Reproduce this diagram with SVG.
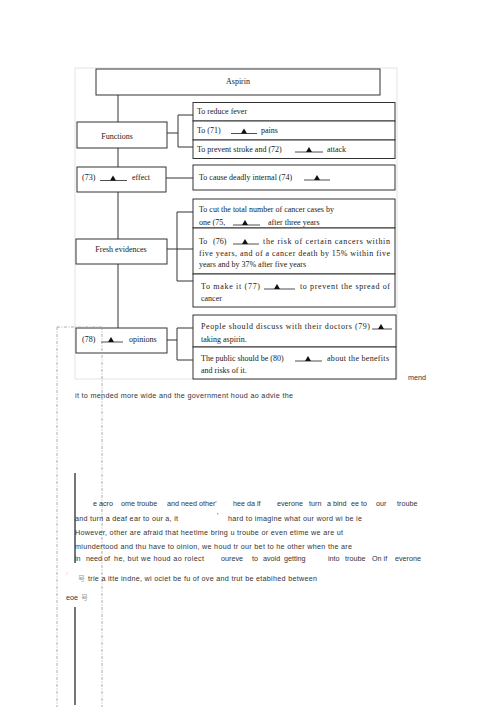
<svg xmlns="http://www.w3.org/2000/svg" width="500" height="707" viewBox="0 0 500 707">
<style>
.bx{fill:#fff;stroke:#333;stroke-width:1}
.cn{fill:none;stroke:#333;stroke-width:1}
.t{font-family:"Liberation Serif","Times New Roman",serif;font-size:8px;fill:#1a1a1a}
.ul{stroke:#222;stroke-width:0.8}
.b{font-family:"Liberation Sans",Arial,sans-serif;font-size:7.2px;fill:#333}
.cjk{font-family:"Liberation Sans","Noto Sans CJK SC",sans-serif;font-size:7px;fill:#999}
.dash{fill:none;stroke:#999;stroke-width:0.8;stroke-dasharray:3,1.5,1,1.5}
.bar{stroke:#666;stroke-width:1.8}
</style>
<defs>
<path id="tri" d="M-3,0 L3,0 L0,-5 Z" fill="#111"/>
</defs>
<rect x="75" y="68" width="322" height="311" fill="none" stroke="#ddd" stroke-width="0.8"/>
<g id="connectors">
<line class="cn" x1="118" y1="95" x2="118" y2="122"/>
<line class="cn" x1="118" y1="148" x2="118" y2="167"/>
<line class="cn" x1="118" y1="192" x2="118" y2="239"/>
<line class="cn" x1="118" y1="264" x2="118" y2="328"/>
<polyline class="cn" points="193,115 178,115 178,147 193,147"/>
<line class="cn" x1="167" y1="133" x2="178" y2="133"/>
<line class="cn" x1="166" y1="178" x2="193" y2="178"/>
<polyline class="cn" points="193,212 177,212 177,281 193,281"/>
<line class="cn" x1="167" y1="249" x2="193" y2="249"/>
<polyline class="cn" points="193,328 177,328 177,360 193,360"/>
<line class="cn" x1="167" y1="340" x2="177" y2="340"/>
</g>
<g id="aspirin">
<rect class="bx" x="96" y="69" width="284" height="26"/>
<text class="t" x="238" y="84" text-anchor="middle">Aspirin</text>
</g>
<g id="functions">
<rect class="bx" x="77" y="122" width="90" height="26"/>
<text class="t" x="117" y="138.5" text-anchor="middle">Functions</text>
</g>
<g id="f1">
<rect class="bx" x="193" y="102.5" width="202" height="18.5"/>
<text class="t" x="197" y="114">To reduce fever</text>
</g>
<g id="f2">
<rect class="bx" x="193" y="121" width="202" height="19"/>
<text class="t" x="197" y="133">To (71)</text>
<line class="ul" x1="231" y1="133.5" x2="257" y2="133.5"/>
<use href="#tri" x="244" y="133.5"/>
<text class="t" x="261" y="133">pains</text>
</g>
<g id="f3">
<rect class="bx" x="193" y="140" width="202" height="18.5"/>
<text class="t" x="197" y="151.5">To prevent stroke and (72)</text>
<line class="ul" x1="295" y1="152" x2="323" y2="152"/>
<use href="#tri" x="309" y="152"/>
<text class="t" x="327" y="151.5">attack</text>
</g>
<g id="effect">
<rect class="bx" x="77" y="167" width="89" height="25"/>
<text class="t" x="82" y="180">(73)</text>
<line class="ul" x1="100" y1="180.5" x2="127" y2="180.5"/>
<use href="#tri" x="113" y="180.5"/>
<text class="t" x="132" y="180">effect</text>
</g>
<g id="e1">
<rect class="bx" x="193" y="165" width="202" height="25"/>
<text class="t" x="199" y="179.5">To cause deadly internal (74)</text>
<line class="ul" x1="304" y1="180" x2="330" y2="180"/>
<use href="#tri" x="317" y="180"/>
</g>
<g id="fresh">
<rect class="bx" x="76" y="239" width="91" height="25"/>
<text class="t" x="121" y="252" text-anchor="middle">Fresh evidences</text>
</g>
<g id="fr1">
<rect class="bx" x="193" y="199" width="202" height="29"/>
<text class="t" x="199" y="211.5">To cut the total number of cancer cases by</text>
<text class="t" x="199" y="224.5">one (75,</text>
<line class="ul" x1="233" y1="225" x2="260" y2="225"/>
<use href="#tri" x="245" y="225"/>
<text class="t" x="268" y="224.5">after three years</text>
</g>
<g id="fr2">
<rect class="bx" x="193" y="228" width="202" height="46"/>
<text class="t" x="199" y="243.5">To</text>
<text class="t" x="213" y="243.5">(76)</text>
<line class="ul" x1="233" y1="244" x2="259" y2="244"/>
<use href="#tri" x="245" y="244"/>
<text class="t" x="263" y="243.5" textLength="127" lengthAdjust="spacing">the risk of certain cancers within</text>
<text class="t" x="199" y="255.5" textLength="191" lengthAdjust="spacing">five years, and of a cancer death by 15% within five</text>
<text class="t" x="199" y="266.5">years and by 37% after five years</text>
</g>
<g id="fr3">
<rect class="bx" x="193" y="274" width="202" height="33"/>
<text class="t" x="201" y="288.5" textLength="59" lengthAdjust="spacing">To make it (77)</text>
<line class="ul" x1="264" y1="289" x2="295" y2="289"/>
<use href="#tri" x="277" y="289"/>
<text class="t" x="300" y="288.5" textLength="90" lengthAdjust="spacing">to prevent the spread of</text>
<text class="t" x="201" y="300.5">cancer</text>
</g>
<g id="opinions">
<rect class="bx" x="76" y="328" width="91" height="25"/>
<text class="t" x="82" y="341.5">(78)</text>
<line class="ul" x1="101" y1="342" x2="123" y2="342"/>
<use href="#tri" x="111" y="342"/>
<text class="t" x="129" y="341.5">opinions</text>
</g>
<g id="op1">
<rect class="bx" x="193" y="315" width="203" height="32"/>
<text class="t" x="201" y="328.5" textLength="169" lengthAdjust="spacing">People should discuss with their doctors (79)</text>
<line class="ul" x1="372" y1="329" x2="392" y2="329"/>
<use href="#tri" x="381" y="329"/>
<text class="t" x="201" y="341.5">taking aspirin.</text>
</g>
<g id="op2">
<rect class="bx" x="193" y="347" width="203" height="32"/>
<text class="t" x="201" y="360.5">The public should be (80)</text>
<line class="ul" x1="295" y1="361" x2="322" y2="361"/>
<use href="#tri" x="308" y="361"/>
<text class="t" x="327" y="360.5" textLength="62" lengthAdjust="spacing">about the benefits</text>
<text class="t" x="201" y="372.5">and risks of it.</text>
</g>
<path class="dash" d="M57,327 H102 M57,327 V707 M102,327 V707"/>
<line class="bar" x1="75" y1="473" x2="75" y2="563"/>
<line class="bar" x1="75" y1="607" x2="75" y2="705"/>
<text class="b" x="408" y="380">mend</text>
<text class="b" x="75" y="398" textLength="218" lengthAdjust="spacing">it to mended more wide and the government houd ao advie the</text>
<text class="b" x="93" y="505.5">e acro</text>
<text class="b" x="121" y="505.5">ome troube</text>
<text class="b" x="167" y="505.5">and need other'</text>
<text class="b" x="233" y="505.5">hee da lf</text>
<text class="b" x="277" y="505.5">everone</text>
<text class="b" x="309" y="505.5">turn</text>
<text class="b" x="327" y="505.5">a bind</text>
<text class="b" x="351" y="505.5">ee to</text>
<text class="b" x="376" y="505.5">our</text>
<text class="b" x="397" y="505.5">troube</text>
<text class="b" x="75" y="520.5" textLength="103" lengthAdjust="spacing">and turn a deaf ear to our a, it</text>
<text class="b" x="217" y="518">'</text>
<text class="b" x="228" y="520.5" textLength="134" lengthAdjust="spacing">hard to imagine what our word wi be ie</text>
<text class="b" x="75" y="534.5" textLength="268" lengthAdjust="spacing">However, other are afraid that heetime bring u troube or even etime we are ut</text>
<text class="b" x="75" y="548.5" textLength="277" lengthAdjust="spacing">miundertood and thu have to oinion, we houd tr our bet to he other when the are</text>
<text class="b" x="75" y="561">in</text>
<text class="b" x="86" y="561">need of</text>
<text class="b" x="114" y="561" textLength="90" lengthAdjust="spacing">he, but we houd ao rolect</text>
<text class="b" x="221" y="561">oureve</text>
<text class="b" x="252" y="561">to</text>
<text class="b" x="263" y="561">avoid</text>
<text class="b" x="284" y="561">getting</text>
<text class="b" x="328" y="561">into</text>
<text class="b" x="345" y="561">troube</text>
<text class="b" x="372" y="561">On if</text>
<text class="b" x="395" y="561">everone</text>
<text class="b" x="66" y="575" style="font-size:6px;fill:#555">:</text>
<text class="cjk" x="78" y="581">号</text>
<text class="b" x="88" y="580.5" textLength="229" lengthAdjust="spacing">trie a itte indne, wi ociet be fu of ove and trut be etabihed between</text>
<text class="b" x="66" y="599.5">eoe</text>
<text class="cjk" x="81" y="600">号</text>
</svg>
